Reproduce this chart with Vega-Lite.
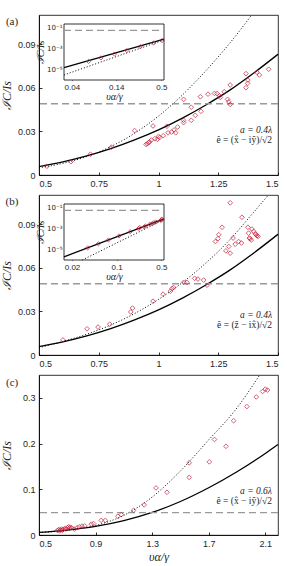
{
 "$schema": "https://vega.github.io/schema/vega-lite/v6.json",
 "padding": {"left": 0, "top": 12, "right": 5, "bottom": 0},
 "background": "white",
 "spacing": 20,
 "bounds": "flush",
 "config": {
  "view": {"stroke": "#000", "strokeWidth": 0.8},
  "axis": {"grid": false, "domainColor": "#000", "domainWidth": 0.8, "tickColor": "#000", "tickWidth": 0.8, "tickSize": -3, "labelFont": "Liberation Sans", "labelFontSize": 9, "labelColor": "#262626", "labelPadding": 7, "titleFont": "Liberation Serif", "titleFontStyle": "italic", "titleFontWeight": "normal", "titleFontSize": 12, "titleColor": "#262626", "titlePadding": 4},
  "text": {"font": "Liberation Serif", "fontSize": 9.5, "color": "#262626"}
 },
 "datasets": {
  "a_solid": [{"x":0.5,"y":0.0058},{"x":0.6,"y":0.0090},{"x":0.7,"y":0.0131},{"x":0.8,"y":0.0181},{"x":0.9,"y":0.0241},{"x":1.0,"y":0.0310},{"x":1.1,"y":0.0391},{"x":1.2,"y":0.0483},{"x":1.3,"y":0.0585},{"x":1.4,"y":0.0703},{"x":1.5,"y":0.0830}],
  "a_dot": [{"x":0.5,"y":0.0050},{"x":0.6,"y":0.0080},{"x":0.7,"y":0.0127},{"x":0.8,"y":0.0195},{"x":0.9,"y":0.0287},{"x":1.0,"y":0.0405},{"x":1.1,"y":0.0550},{"x":1.2,"y":0.0720},{"x":1.3,"y":0.0910},{"x":1.39,"y":0.1100}],
  "a_pts": [{"x":0.533,"y":0.0060},{"x":0.634,"y":0.0092},{"x":0.715,"y":0.0143},{"x":0.803,"y":0.0192},{"x":0.900,"y":0.0305},{"x":0.977,"y":0.0337},{"x":0.948,"y":0.0210},{"x":0.953,"y":0.0215},{"x":0.958,"y":0.0222},{"x":0.963,"y":0.0228},{"x":0.970,"y":0.0240},{"x":0.985,"y":0.0250},{"x":0.995,"y":0.0245},{"x":1.000,"y":0.0265},{"x":1.005,"y":0.0258},{"x":1.020,"y":0.0270},{"x":1.035,"y":0.0335},{"x":1.040,"y":0.0290},{"x":1.055,"y":0.0295},{"x":1.065,"y":0.0310},{"x":1.072,"y":0.0290},{"x":1.080,"y":0.0330},{"x":1.105,"y":0.0520},{"x":1.105,"y":0.0376},{"x":1.105,"y":0.0360},{"x":1.137,"y":0.0466},{"x":1.137,"y":0.0376},{"x":1.154,"y":0.0410},{"x":1.175,"y":0.0538},{"x":1.178,"y":0.0438},{"x":1.207,"y":0.0556},{"x":1.234,"y":0.0561},{"x":1.245,"y":0.0560},{"x":1.255,"y":0.0545},{"x":1.259,"y":0.0533},{"x":1.275,"y":0.0572},{"x":1.289,"y":0.0520},{"x":1.294,"y":0.0503},{"x":1.300,"y":0.0619},{"x":1.300,"y":0.0485},{"x":1.366,"y":0.0697},{"x":1.366,"y":0.0600},{"x":1.373,"y":0.0630},{"x":1.374,"y":0.0653},{"x":1.412,"y":0.0706},{"x":1.422,"y":0.0688},{"x":1.461,"y":0.0727}],
  "a_in_solid": [{"x":0.032,"y":0.000015},{"x":0.54,"y":0.0075}],
  "a_in_dot": [{"x":0.032,"y":0.000003},{"x":0.54,"y":0.0062}],
  "a_in_pts": [{"x":0.064,"y":0.000057},{"x":0.091,"y":0.000124},{"x":0.133,"y":0.000285},{"x":0.189,"y":0.000615},{"x":0.276,"y":0.00142},{"x":0.405,"y":0.0033},{"x":0.51,"y":0.0055}],
  "b_dot": [{"x":0.5,"y":0.0050},{"x":0.6,"y":0.0093},{"x":0.7,"y":0.0143},{"x":0.8,"y":0.0206},{"x":0.9,"y":0.0285},{"x":1.0,"y":0.0382},{"x":1.1,"y":0.0498},{"x":1.2,"y":0.0635},{"x":1.3,"y":0.0795},{"x":1.4,"y":0.0985},{"x":1.46,"y":0.1100}],
  "b_pts": [{"x":0.600,"y":0.0104},{"x":0.701,"y":0.0180},{"x":0.747,"y":0.0192},{"x":0.796,"y":0.0212},{"x":0.884,"y":0.0296},{"x":0.891,"y":0.0323},{"x":0.977,"y":0.0370},{"x":1.019,"y":0.0418},{"x":1.050,"y":0.0439},{"x":1.057,"y":0.0457},{"x":1.063,"y":0.0464},{"x":1.105,"y":0.0499},{"x":1.119,"y":0.0499},{"x":1.151,"y":0.0527},{"x":1.165,"y":0.0522},{"x":1.189,"y":0.0515},{"x":1.203,"y":0.0480},{"x":1.238,"y":0.0780},{"x":1.249,"y":0.0800},{"x":1.252,"y":0.0827},{"x":1.266,"y":0.0878},{"x":1.282,"y":0.0716},{"x":1.294,"y":0.0746},{"x":1.300,"y":0.0700},{"x":1.300,"y":0.1046},{"x":1.312,"y":0.0804},{"x":1.321,"y":0.0762},{"x":1.349,"y":0.0947},{"x":1.335,"y":0.0780},{"x":1.347,"y":0.0770},{"x":1.377,"y":0.0838},{"x":1.374,"y":0.0878},{"x":1.380,"y":0.0804},{"x":1.384,"y":0.0800},{"x":1.388,"y":0.0790},{"x":1.391,"y":0.0866},{"x":1.398,"y":0.0850},{"x":1.405,"y":0.0834},{"x":1.408,"y":0.0827},{"x":1.412,"y":0.0820},{"x":1.416,"y":0.0815}],
  "b_in_solid": [{"x":0.015,"y":0.000002},{"x":0.55,"y":0.0078}],
  "b_in_dot": [{"x":0.029,"y":0.000001},{"x":0.55,"y":0.0067}],
  "b_in_pts": [{"x":0.0352,"y":0.0000141},{"x":0.0519,"y":0.0000344},{"x":0.0745,"y":0.000079},{"x":0.109,"y":0.00019},{"x":0.163,"y":0.00048},{"x":0.22,"y":0.00095},{"x":0.23,"y":0.0012},{"x":0.28,"y":0.00166},{"x":0.27,"y":0.0013},{"x":0.335,"y":0.0025},{"x":0.36,"y":0.0027},{"x":0.38,"y":0.0034},{"x":0.41,"y":0.004},{"x":0.49,"y":0.0055},{"x":0.5,"y":0.0063},{"x":0.51,"y":0.0075}],
  "c_solid": [{"x":0.5,"y":0.0058},{"x":0.7,"y":0.0108},{"x":0.9,"y":0.0188},{"x":1.1,"y":0.0313},{"x":1.3,"y":0.0493},{"x":1.5,"y":0.0733},{"x":1.7,"y":0.1033},{"x":1.9,"y":0.1383},{"x":2.1,"y":0.1783},{"x":2.19,"y":0.1980}],
  "c_dot": [{"x":0.5,"y":0.005},{"x":0.7,"y":0.0105},{"x":0.9,"y":0.021},{"x":1.1,"y":0.043},{"x":1.3,"y":0.083},{"x":1.5,"y":0.140},{"x":1.7,"y":0.208},{"x":1.9,"y":0.278},{"x":2.06,"y":0.35}],
  "c_pts": [{"x":0.63,"y":0.010},{"x":0.64,"y":0.012},{"x":0.645,"y":0.009},{"x":0.65,"y":0.011},{"x":0.66,"y":0.013},{"x":0.665,"y":0.010},{"x":0.67,"y":0.012},{"x":0.68,"y":0.014},{"x":0.69,"y":0.013},{"x":0.70,"y":0.016},{"x":0.71,"y":0.018},{"x":0.715,"y":0.015},{"x":0.72,"y":0.017},{"x":0.73,"y":0.016},{"x":0.75,"y":0.013},{"x":0.769,"y":0.0158},{"x":0.785,"y":0.018},{"x":0.804,"y":0.0194},{"x":0.823,"y":0.020},{"x":0.87,"y":0.0237},{"x":0.886,"y":0.025},{"x":0.94,"y":0.032},{"x":0.969,"y":0.032},{"x":1.058,"y":0.041},{"x":1.082,"y":0.0446},{"x":1.169,"y":0.054},{"x":1.244,"y":0.066},{"x":1.327,"y":0.103},{"x":1.405,"y":0.0935},{"x":1.562,"y":0.158},{"x":1.562,"y":0.126},{"x":1.704,"y":0.160},{"x":1.741,"y":0.209},{"x":1.822,"y":0.194},{"x":1.876,"y":0.250},{"x":1.97,"y":0.281},{"x":2.036,"y":0.302},{"x":2.081,"y":0.314},{"x":2.10,"y":0.319},{"x":2.116,"y":0.317}]
 },
 "vconcat": [
  {
   "width": 239, "height": 160,
   "layer": [
    {"layer": [
     {"data": {"name": "a_solid"}, "mark": {"type": "line", "color": "#000", "strokeWidth": 1.3, "interpolate": "monotone"},
      "encoding": {"x": {"field": "x", "type": "quantitative", "scale": {"domain": [0.5, 1.5], "nice": false, "zero": false}, "axis": {"values": [0.5, 0.75, 1, 1.25, 1.5], "format": ".3~g", "title": null}},
                   "y": {"field": "y", "type": "quantitative", "scale": {"domain": [0, 0.11], "nice": false}, "axis": {"values": [0, 0.03, 0.06, 0.09], "format": "~f", "title": "ℐC/Is"}}}},
     {"data": {"name": "a_dot"}, "mark": {"type": "line", "color": "#000", "strokeWidth": 1, "strokeDash": [1, 2], "interpolate": "monotone"},
      "encoding": {"x": {"field": "x", "type": "quantitative"}, "y": {"field": "y", "type": "quantitative"}}},
     {"data": {"values": [{}]}, "mark": {"type": "rule", "color": "#999", "strokeWidth": 1.3, "strokeDash": [7, 4]},
      "encoding": {"y": {"datum": 0.049, "type": "quantitative"}}},
     {"data": {"name": "a_pts"}, "mark": {"type": "point", "shape": "diamond", "filled": false, "color": "#c41e3a", "size": 22, "strokeWidth": 1},
      "encoding": {"x": {"field": "x", "type": "quantitative"}, "y": {"field": "y", "type": "quantitative"}}},
     {"data": {"values": [{}]}, "mark": {"type": "text", "align": "right", "fontStyle": "italic"},
      "encoding": {"x": {"datum": 1.475, "type": "quantitative"}, "y": {"datum": 0.0307, "type": "quantitative"}, "text": {"value": "a = 0.4λ"}}},
     {"data": {"values": [{}]}, "mark": {"type": "text", "align": "right"},
      "encoding": {"x": {"datum": 1.475, "type": "quantitative"}, "y": {"datum": 0.0238, "type": "quantitative"}, "text": {"value": "ê = (x̂ − iŷ)/√2"}}},
     {"data": {"values": [{}]}, "mark": {"type": "text", "align": "center", "fontSize": 11},
      "encoding": {"x": {"datum": 0.387, "type": "quantitative"}, "y": {"datum": 0.105, "type": "quantitative"}, "text": {"value": "(a)"}}}
    ]},
    {"layer": [
     {"data": {"values": [{}]}, "mark": {"type": "rect", "fill": "white", "stroke": "#000", "strokeWidth": 0.8},
      "encoding": {"x": {"datum": 0.032, "type": "quantitative", "scale": {"type": "log", "domain": [0.032, 0.54], "range": [25, 125], "nice": false}, "axis": {"orient": "bottom", "offset": -95, "values": [0.04, 0.14, 0.5], "format": ".2~g", "domain": false, "tickSize": -2, "labelFontSize": 8, "labelPadding": 5, "title": "υα/γ", "titleFontSize": 10, "titlePadding": 0}},
                   "x2": {"datum": 0.54},
                   "y": {"datum": 0.000001, "type": "quantitative", "scale": {"type": "log", "domain": [0.000001, 0.2], "range": [65, 9], "nice": false}, "axis": {"orient": "left", "offset": -25, "values": [0.00001, 0.001, 0.1], "labelExpr": "datum.value < 0.0001 ? '10⁻⁵' : datum.value < 0.01 ? '10⁻³' : '10⁻¹'", "domain": false, "tickSize": -2, "labelFont": "DejaVu Sans", "labelFontSize": 7, "labelPadding": 4, "title": "ℐC/Is", "titleFontSize": 10, "titlePadding": 1}},
                   "y2": {"datum": 0.2}}},
     {"data": {"values": [{}]}, "mark": {"type": "rule", "color": "#999", "strokeWidth": 1.3, "strokeDash": [7, 4]},
      "encoding": {"x": {"datum": 0.032, "type": "quantitative"}, "x2": {"datum": 0.54}, "y": {"datum": 0.049, "type": "quantitative"}}},
     {"data": {"name": "a_in_solid"}, "mark": {"type": "line", "color": "#000", "strokeWidth": 1.3},
      "encoding": {"x": {"field": "x", "type": "quantitative"}, "y": {"field": "y", "type": "quantitative"}}},
     {"data": {"name": "a_in_dot"}, "mark": {"type": "line", "color": "#000", "strokeWidth": 1, "strokeDash": [1, 2]},
      "encoding": {"x": {"field": "x", "type": "quantitative"}, "y": {"field": "y", "type": "quantitative"}}},
     {"data": {"name": "a_in_pts"}, "mark": {"type": "point", "shape": "diamond", "filled": false, "color": "#c41e3a", "size": 18, "strokeWidth": 1},
      "encoding": {"x": {"field": "x", "type": "quantitative"}, "y": {"field": "y", "type": "quantitative"}}}
    ]}
   ],
   "resolve": {"scale": {"x": "independent", "y": "independent"}, "axis": {"x": "independent", "y": "independent"}}
  },
  {
   "width": 239, "height": 160,
   "layer": [
    {"layer": [
     {"data": {"name": "a_solid"}, "mark": {"type": "line", "color": "#000", "strokeWidth": 1.3, "interpolate": "monotone"},
      "encoding": {"x": {"field": "x", "type": "quantitative", "scale": {"domain": [0.5, 1.5], "nice": false, "zero": false}, "axis": {"values": [0.5, 0.75, 1, 1.25, 1.5], "format": ".3~g", "title": null}},
                   "y": {"field": "y", "type": "quantitative", "scale": {"domain": [0, 0.11], "nice": false}, "axis": {"values": [0, 0.03, 0.06, 0.09], "format": "~f", "title": "ℐC/Is"}}}},
     {"data": {"name": "b_dot"}, "mark": {"type": "line", "color": "#000", "strokeWidth": 1, "strokeDash": [1, 2], "interpolate": "monotone"},
      "encoding": {"x": {"field": "x", "type": "quantitative"}, "y": {"field": "y", "type": "quantitative"}}},
     {"data": {"values": [{}]}, "mark": {"type": "rule", "color": "#999", "strokeWidth": 1.3, "strokeDash": [7, 4]},
      "encoding": {"y": {"datum": 0.049, "type": "quantitative"}}},
     {"data": {"name": "b_pts"}, "mark": {"type": "point", "shape": "diamond", "filled": false, "color": "#c41e3a", "size": 22, "strokeWidth": 1},
      "encoding": {"x": {"field": "x", "type": "quantitative"}, "y": {"field": "y", "type": "quantitative"}}},
     {"data": {"values": [{}]}, "mark": {"type": "text", "align": "right", "fontStyle": "italic"},
      "encoding": {"x": {"datum": 1.475, "type": "quantitative"}, "y": {"datum": 0.0277, "type": "quantitative"}, "text": {"value": "a = 0.4λ"}}},
     {"data": {"values": [{}]}, "mark": {"type": "text", "align": "right"},
      "encoding": {"x": {"datum": 1.475, "type": "quantitative"}, "y": {"datum": 0.0208, "type": "quantitative"}, "text": {"value": "ê = (ẑ − ix̂)/√2"}}},
     {"data": {"values": [{}]}, "mark": {"type": "text", "align": "center", "fontSize": 11},
      "encoding": {"x": {"datum": 0.387, "type": "quantitative"}, "y": {"datum": 0.105, "type": "quantitative"}, "text": {"value": "(b)"}}}
    ]},
    {"layer": [
     {"data": {"values": [{}]}, "mark": {"type": "rect", "fill": "white", "stroke": "#000", "strokeWidth": 0.8},
      "encoding": {"x": {"datum": 0.015, "type": "quantitative", "scale": {"type": "log", "domain": [0.015, 0.55], "range": [25, 125], "nice": false}, "axis": {"orient": "bottom", "offset": -95, "values": [0.02, 0.1, 0.5], "format": ".2~g", "domain": false, "tickSize": -2, "labelFontSize": 8, "labelPadding": 5, "title": "υα/γ", "titleFontSize": 10, "titlePadding": 0}},
                   "x2": {"datum": 0.55},
                   "y": {"datum": 0.000001, "type": "quantitative", "scale": {"type": "log", "domain": [0.000001, 0.2], "range": [65, 9], "nice": false}, "axis": {"orient": "left", "offset": -25, "values": [0.00001, 0.001, 0.1], "labelExpr": "datum.value < 0.0001 ? '10⁻⁵' : datum.value < 0.01 ? '10⁻³' : '10⁻¹'", "domain": false, "tickSize": -2, "labelFont": "DejaVu Sans", "labelFontSize": 7, "labelPadding": 4, "title": "ℐC/Is", "titleFontSize": 10, "titlePadding": 1}},
                   "y2": {"datum": 0.2}}},
     {"data": {"values": [{}]}, "mark": {"type": "rule", "color": "#999", "strokeWidth": 1.3, "strokeDash": [7, 4]},
      "encoding": {"x": {"datum": 0.015, "type": "quantitative"}, "x2": {"datum": 0.55}, "y": {"datum": 0.049, "type": "quantitative"}}},
     {"data": {"name": "b_in_solid"}, "mark": {"type": "line", "color": "#000", "strokeWidth": 1.3},
      "encoding": {"x": {"field": "x", "type": "quantitative"}, "y": {"field": "y", "type": "quantitative"}}},
     {"data": {"name": "b_in_dot"}, "mark": {"type": "line", "color": "#000", "strokeWidth": 1, "strokeDash": [1, 2]},
      "encoding": {"x": {"field": "x", "type": "quantitative"}, "y": {"field": "y", "type": "quantitative"}}},
     {"data": {"name": "b_in_pts"}, "mark": {"type": "point", "shape": "diamond", "filled": false, "color": "#c41e3a", "size": 18, "strokeWidth": 1},
      "encoding": {"x": {"field": "x", "type": "quantitative"}, "y": {"field": "y", "type": "quantitative"}}}
    ]}
   ],
   "resolve": {"scale": {"x": "independent", "y": "independent"}, "axis": {"x": "independent", "y": "independent"}}
  },
  {
   "width": 239, "height": 160,
   "layer": [
    {"data": {"name": "c_solid"}, "mark": {"type": "line", "color": "#000", "strokeWidth": 1.3, "interpolate": "monotone"},
     "encoding": {"x": {"field": "x", "type": "quantitative", "scale": {"domain": [0.5, 2.19], "nice": false, "zero": false}, "axis": {"values": [0.5, 0.9, 1.3, 1.7, 2.1], "format": ".2~g", "title": "υα/γ", "titlePadding": 3}},
                  "y": {"field": "y", "type": "quantitative", "scale": {"domain": [0, 0.35], "nice": false}, "axis": {"values": [0, 0.1, 0.2, 0.3], "format": "~f", "title": "ℐC/Is", "titlePadding": 9}}}},
    {"data": {"name": "c_dot"}, "mark": {"type": "line", "color": "#000", "strokeWidth": 1, "strokeDash": [1, 2], "interpolate": "monotone"},
     "encoding": {"x": {"field": "x", "type": "quantitative"}, "y": {"field": "y", "type": "quantitative"}}},
    {"data": {"values": [{}]}, "mark": {"type": "rule", "color": "#999", "strokeWidth": 1.3, "strokeDash": [7, 4]},
     "encoding": {"y": {"datum": 0.049, "type": "quantitative"}}},
    {"data": {"name": "c_pts"}, "mark": {"type": "point", "shape": "diamond", "filled": false, "color": "#c41e3a", "size": 22, "strokeWidth": 1},
     "encoding": {"x": {"field": "x", "type": "quantitative"}, "y": {"field": "y", "type": "quantitative"}}},
    {"data": {"values": [{}]}, "mark": {"type": "text", "align": "right", "fontStyle": "italic"},
     "encoding": {"x": {"datum": 2.147, "type": "quantitative"}, "y": {"datum": 0.097, "type": "quantitative"}, "text": {"value": "a = 0.6λ"}}},
    {"data": {"values": [{}]}, "mark": {"type": "text", "align": "right"},
     "encoding": {"x": {"datum": 2.147, "type": "quantitative"}, "y": {"datum": 0.074, "type": "quantitative"}, "text": {"value": "ê = (x̂ − iŷ)/√2"}}},
    {"data": {"values": [{}]}, "mark": {"type": "text", "align": "center", "fontSize": 11},
     "encoding": {"x": {"datum": 0.31, "type": "quantitative"}, "y": {"datum": 0.333, "type": "quantitative"}, "text": {"value": "(c)"}}}
   ]
  }
 ]
}
